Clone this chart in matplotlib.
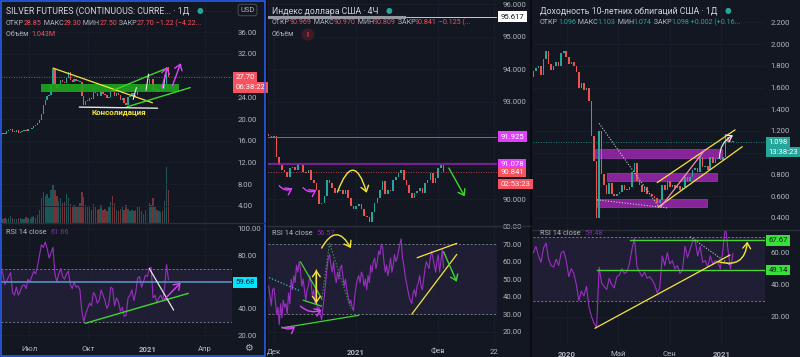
import numpy as np
import pandas as pd
import matplotlib.pyplot as plt
import matplotlib.dates as mdates
import matplotlib.transforms as mtransforms
from matplotlib.patches import Rectangle, FancyArrowPatch

plt.rcParams['font.family'] = ['Roboto', 'DejaVu Sans']

# ---------------- data ----------------
# silver futures, one value every 3 days from 2020-05-15
silver_close = [17.0, 17.3, 17.4, 17.2, 17.8, 18.0, 18.2, 17.6, 17.6, 17.9,
                17.5, 17.6, 17.8, 17.9, 17.8, 18.1, 18.2, 18.4, 18.8, 18.9,
                19.2, 19.8, 21.0, 22.6, 23.5, 24.2, 24.4, 26.2, 29.3, 26.5,
                25.8, 26.4, 27.2, 26.8, 26.7, 27.6, 28.6, 27.2, 26.8, 27.3,
                27.0, 27.1, 26.8, 24.3, 22.6, 23.3, 23.4, 23.9, 23.7, 25.0,
                24.8, 24.3, 24.2, 25.0, 24.7, 24.4, 23.9, 24.1, 25.5, 25.4,
                24.3, 24.8, 24.5, 23.5, 23.8, 23.0, 22.6, 24.0, 24.3, 24.8,
                24.0, 24.5, 25.9, 26.1, 25.5, 25.9, 26.5, 26.4, 27.3, 27.4,
                25.3, 25.5, 24.9, 25.4, 25.6, 25.1, 26.4, 29.6, 27.7]
silver_volume = [20, 25, 18, 22, 20, 24, 30, 22, 18, 20,
                 24, 22, 18, 20, 25, 22, 20, 28, 30, 24,
                 35, 60, 110, 140, 120, 130, 110, 150, 170, 150,
                 120, 100, 110, 90, 95, 130, 110, 85, 70, 80,
                 75, 70, 90, 140, 115, 80, 70, 75, 60, 85,
                 70, 60, 65, 80, 60, 65, 55, 70, 95, 120,
                 90, 60, 55, 65, 75, 60, 80, 65, 55, 60,
                 55, 60, 75, 70, 55, 40, 60, 45, 90, 80,
                 110, 70, 60, 55, 50, 55, 100, 250, 150]
silver_rsi = [62, 70, 66, 58, 61, 64, 67, 52, 50, 56,
              50, 53, 57, 58, 55, 62, 60, 64, 68, 66,
              72, 80, 88, 86, 90, 85, 78, 82, 86, 66,
              60, 66, 70, 64, 62, 66, 68, 58, 55, 60,
              56, 57, 54, 38, 30, 36, 40, 44, 42, 52,
              50, 44, 46, 54, 50, 46, 40, 43, 56, 55,
              42, 48, 45, 38, 41, 34, 35, 48, 50, 54,
              46, 52, 63, 64, 56, 60, 65, 64, 70, 71,
              48, 50, 44, 48, 50, 46, 56, 73, 61.66]

# US dollar index, daily values from 2020-11-29
dxy_close = [91.95, 91.9,
             91.95, 91.3, 91.05, 90.9, 90.85, 90.7, 90.95, 91.0, 90.9, 91.1,
             91.05, 90.85, 90.8, 90.9, 90.6, 90.5, 90.3, 89.85, 89.9, 90.1,
             90.6, 90.5, 90.35, 90.2, 90.25, 90.3, 90.15, 90.3, 90.05, 89.8, 89.7,
             89.8, 89.85, 89.7, 89.5, 89.45, 89.3, 89.6, 89.9, 90.05, 90.3,
             90.55, 90.15, 90.3, 90.25, 90.6, 90.7, 90.8, 90.9, 90.6, 90.45,
             90.2, 90.05, 90.2, 90.25, 90.35, 90.2, 90.5, 90.6, 90.8, 90.5, 90.65,
             90.95, 91.05, 90.841]
# RSI of the 4h chart, every 12 hours from 2020-11-29
dxy_rsi = [46, 40, 35, 44, 45, 38, 30, 34, 24, 36, 28, 38, 34, 36, 30, 42, 36, 50,
           44, 52, 48, 58, 54, 60, 55, 46, 50, 44, 38, 44, 46, 52, 48, 40, 44, 36,
           38, 32, 34, 30, 27, 34, 40, 48, 56, 62, 64, 58, 54, 60, 52, 48, 54, 50,
           56, 58, 52, 46, 50, 44, 40, 36, 38, 34, 32, 40, 46, 50, 52, 48, 54, 52,
           46, 50, 44, 52, 48, 58, 54, 60, 62, 56, 60, 66, 64, 70, 68, 60, 54, 58,
           52, 56, 62, 54, 58, 64, 60, 62, 66, 70, 73, 62, 58, 52, 48, 44, 40, 38,
           36, 42, 44, 40, 46, 48, 52, 46, 44, 50, 56, 60, 58, 56, 62, 66, 62, 58,
           54, 60, 64, 54, 60, 67, 56.57]

# US 10-year yield, one value every 6 days from 2019-10-13
ust_close = [1.75, 1.78, 1.80, 1.72, 1.86, 1.94, 1.82, 1.76, 1.80, 1.84,
             1.80, 1.92, 1.94, 1.88, 1.82, 1.84, 1.80, 1.74, 1.60, 1.64,
             1.58, 1.60, 1.48, 1.15, 0.92, 0.40, 1.20, 0.80, 0.70, 0.62,
             0.72, 0.62, 0.60, 0.62, 0.64, 0.70, 0.66, 0.66, 0.68, 0.82,
             0.90, 0.74, 0.70, 0.64, 0.68, 0.62, 0.62, 0.60, 0.58, 0.54,
             0.56, 0.70, 0.66, 0.74, 0.68, 0.70, 0.67, 0.69, 0.66, 0.68,
             0.78, 0.74, 0.78, 0.84, 0.86, 0.82, 0.96, 0.87, 0.88, 0.84,
             0.96, 0.90, 0.94, 0.94, 0.93, 0.96, 1.14, 1.10, 1.10, 1.098]
ust_rsi = [60, 64, 58, 54, 63, 66, 56, 52, 51, 56,
           52, 60, 61, 55, 45, 50, 47, 40, 30, 36,
           33, 39, 26, 20, 16, 13, 51, 41, 39, 37,
           44, 40, 38, 45, 46, 50, 47, 48, 53, 62,
           69, 51, 48, 45, 48, 44, 45, 43, 40, 35,
           38, 58, 52, 60, 53, 55, 50, 52, 47, 49,
           64, 57, 62, 67, 68, 58, 64, 54, 55, 51,
           58, 53, 55, 54, 50, 62, 77, 62, 50, 59.48]

silver_dates = pd.date_range('2020-05-15', periods=len(silver_close), freq='3D')
dxy_dates = pd.date_range('2020-11-29', periods=len(dxy_close), freq='D')
dxy_rsi_dates = pd.date_range('2020-11-29', periods=len(dxy_rsi), freq='12h')
ust_dates = pd.date_range('2019-10-13', periods=len(ust_close), freq='6D')

# hand drawings on the charts, as (date, value) points
silver_zone = ('2020-07-19', '2021-02-20', 25.0, 26.4)
silver_yellow = [('2020-08-07', 29.4), ('2021-01-09', 23.0)]
silver_green = [[('2020-11-09', 25.3), ('2021-02-01', 29.4)],
                [('2020-11-29', 22.2), ('2021-03-09', 25.8)]]
silver_white = [('2020-09-17', 22.2), ('2021-01-17', 22.0)]
silver_white_strokes = [[('2020-12-10', 23.6), ('2020-12-15', 25.8)],
                        [('2020-12-30', 25.3), ('2021-01-03', 28.3)],
                        [('2021-01-26', 25.7), ('2021-01-29', 28.1)]]
silver_magenta = [[('2021-01-24', 25.8), ('2021-02-01', 29.6)],
                  [('2021-02-09', 26.1), ('2021-02-22', 30.3)]]
silver_label = ('2020-11-17', 21.2, 'Консолидация')
silver_rsi_green = [('2020-09-26', 28.8), ('2021-03-06', 51.4)]
silver_rsi_white = [('2021-01-04', 70.2), ('2021-02-11', 38.8)]
silver_rsi_magenta = [('2021-01-28', 47.0), ('2021-02-22', 59.4)]
silver_rsi_level = 59.68

dxy_levels = [91.925, 91.078]
dxy_ray = 95.617
dxy_yellow_arc = [('2020-12-25', 90.23), ('2021-01-05', 90.2)]
dxy_magenta_arcs = [[('2020-12-03', 90.42), ('2020-12-08', 90.34)],
                    [('2020-12-12', 90.36), ('2020-12-17', 90.29)]]
dxy_green_arrow = [('2021-02-05', 90.96), ('2021-02-11', 90.09)]
dxy_rsi_green = [[('2020-12-04', 22.2), ('2021-01-02', 29.4)],
                 [('2020-12-11', 59.9), ('2020-12-19', 39.0)],
                 [('2020-12-12', 38.0), ('2020-12-19', 34.6)]]
dxy_rsi_dotted = [('2020-12-19', 38.1), ('2020-12-22', 70.4), ('2020-12-30', 33.3)]
dxy_rsi_cyan = [('2020-11-27', 52.3), ('2020-12-11', 43.2)]
dxy_rsi_yellow = [[('2021-01-22', 30.0), ('2021-02-08', 64.1)],
                  [('2021-01-24', 62.2), ('2021-02-08', 70.4)]]
dxy_rsi_yellow_arc = [('2020-12-19', 67.7), ('2020-12-30', 67.7)]
dxy_rsi_yellow_updown = [('2020-12-17', 36.3), ('2020-12-17', 55.2)]
dxy_rsi_magenta = [[('2020-12-04', 22.7), ('2020-12-09', 22.9)],
                   [('2020-12-11', 34.6), ('2020-12-19', 32.4)]]
dxy_rsi_green_arrow = [('2021-02-03', 65.6), ('2021-02-08', 48.5)]

ust_zones = [('2020-03-07', '2021-01-03', 0.951, 1.034),
             ('2020-04-05', '2020-12-22', 0.74, 0.81),
             ('2020-03-12', '2020-11-29', 0.50, 0.573)]
ust_yellow = [[('2020-08-02', 0.724), ('2021-02-03', 1.21)],
              [('2020-08-04', 0.497), ('2021-02-20', 1.055)]]
ust_pink = [('2020-08-10', 0.497), ('2020-11-23', 1.025)]
ust_white_dotted = [[('2020-03-17', 1.27), ('2020-08-06', 0.50)],
                    [('2020-03-12', 0.565), ('2020-08-27', 0.49)]]
ust_white_arrow = [('2020-12-28', 0.95), ('2021-01-29', 1.16)]
ust_rsi_levels = [('2020-05-29', 67.67), ('2020-03-12', 49.14)]
ust_rsi_yellow = [('2020-03-07', 12.75), ('2021-01-22', 58.6)]
ust_rsi_dotted = [('2020-10-19', 70.0), ('2021-01-22', 52.3)]
ust_rsi_arc = [('2020-12-25', 54.4), ('2021-03-04', 66.9)]

# ---------------- style ----------------
BG = '#131722'
GRID = '#1b1f2c'
TXT = '#b2b5be'
UP = '#26a69a'
DN = '#ef5350'
RSI_C = '#9a2fc2'
YEL = '#f5e63a'
GRN = '#3fd62e'
MAG = '#e040fb'
WHT = '#e6e6e6'

W, H = 800, 357
fig = plt.figure(figsize=(W / 100, H / 100), dpi=100, facecolor='#090b10')


def px_axes(x0, y0, x1, y1):
    return fig.add_axes([x0 / W, 1 - y1 / H, (x1 - x0) / W, (y1 - y0) / H])


def d(s):
    return mdates.date2num(pd.Timestamp(s))


def setup(ax, xlim, ylim, yticks, fmt, xticks, hidden=()):
    # labels in "hidden" sit under a price tag in the original, so they stay blank
    ax.set_facecolor('none')
    ax.set_xlim(d(xlim[0]), d(xlim[1]))
    ax.set_ylim(*ylim)
    ax.set_xticks([d(t) for t in xticks])
    ax.set_yticks(yticks)
    ax.set_yticklabels(['' if v in hidden else fmt.format(v) for v in yticks])
    ax.yaxis.tick_right()
    ax.tick_params(axis='y', length=0, pad=4, labelsize=5.6, labelcolor=TXT)
    ax.tick_params(axis='x', length=0, labelbottom=False)
    ax.grid(True, color=GRID, lw=0.6)
    for sp in ax.spines.values():
        sp.set_visible(False)


def time_labels(ax, labels):
    ax.tick_params(axis='x', labelbottom=True, labelsize=5.6, labelcolor=TXT, pad=4)
    ax.set_xticklabels(labels)
    for t in ax.get_xticklabels():
        if t.get_text() in ('2020', '2021'):
            t.set_fontweight('bold')


def candles(ax, x, close, first_open, width, min_body):
    c = np.asarray(close, float)
    o = np.r_[first_open, c[:-1]]
    up = c >= o
    ax.bar(x, np.maximum(np.abs(c - o), min_body), bottom=np.minimum(o, c),
           width=width, color=np.where(up, UP, DN), linewidth=0, zorder=3)
    return up


def rsi_band(ax):
    ax.axhspan(30, 70, color='#7e57c2', alpha=0.12, lw=0, zorder=1)
    for lv in (30, 70):
        ax.axhline(lv, color='#787b86', lw=0.7, ls=(0, (2, 2)), zorder=2)


def seg(ax, pts, color, lw=1.0, ls='-', z=5):
    ax.plot([d(p[0]) for p in pts], [p[1] for p in pts], color=color, lw=lw,
            ls=ls, zorder=z, solid_capstyle='round')


def arr(ax, p0, p1, color, rad=0.0, lw=1.0):
    ax.add_patch(FancyArrowPatch((d(p0[0]), p0[1]), (d(p1[0]), p1[1]),
                                 connectionstyle=f'arc3,rad={rad}',
                                 arrowstyle='->,head_length=0.5,head_width=0.35',
                                 mutation_scale=8, color=color, lw=lw,
                                 shrinkA=0, shrinkB=0, zorder=6))


def tag(ax, y, text, bg, fg='white', dy=0):
    tr = mtransforms.blended_transform_factory(ax.transAxes, ax.transData)
    ax.annotate(text, xy=(1, y), xycoords=tr, xytext=(2.5, dy), textcoords='offset points',
                ha='left', va='center', fontsize=5.6, color=fg, zorder=10,
                annotation_clip=False,
                bbox=dict(boxstyle='square,pad=0.3', fc=bg, ec='none'))


def price_line(ax, y, color):
    ax.axhline(y, color=color, lw=0.6, ls=(0, (1, 2)), zorder=4)


# panel backgrounds
for x0, x1 in [(0, 265), (267, 530), (532, 800)]:
    fig.add_artist(Rectangle((x0 / W, 0), (x1 - x0) / W, 1, transform=fig.transFigure,
                             fc=BG, ec='none', zorder=-10))

# ---------------- panel 1: silver ----------------
p1_x = ('2020-05-18', '2021-05-13')
p1_ticks = ['2020-07-01', '2020-10-01', '2021-01-01', '2021-04-01']
sx = mdates.date2num(silver_dates)

vax = px_axes(1, 0, 232, 223)
s_up = np.asarray(silver_close) >= np.r_[16.9, silver_close[:-1]]
vax.bar(sx, silver_volume, width=2.2, color=np.where(s_up, UP, DN), alpha=0.45, lw=0)
vax.set_xlim(d(p1_x[0]), d(p1_x[1]))
vax.set_ylim(0, 1000)
vax.axis('off')

ax1 = px_axes(1, 0, 232, 223)
candles(ax1, sx, silver_close, 16.9, 2.2, 0.12)
setup(ax1, p1_x, (0.82, 41.96), list(range(4, 44, 4)), '{:.2f}', p1_ticks, hidden=(28, 40))
ax1.add_patch(Rectangle((d(silver_zone[0]), silver_zone[2]),
                        d(silver_zone[1]) - d(silver_zone[0]), silver_zone[3] - silver_zone[2],
                        fc='#1fa31f', ec='none', alpha=0.92, zorder=4))
seg(ax1, silver_yellow, YEL, 0.9)
for g in silver_green:
    seg(ax1, g, GRN, 1.0)
seg(ax1, silver_white, WHT, 1.0)
for w in silver_white_strokes:
    seg(ax1, w, WHT, 0.8)
for m in silver_magenta:
    arr(ax1, m[0], m[1], MAG, lw=1.0)
ax1.text(d(silver_label[0]), silver_label[1], silver_label[2], color=YEL, fontsize=5.8,
         weight='bold', ha='center', va='center', zorder=7)
price_line(ax1, silver_close[-1], DN)
tag(ax1, silver_close[-1], '27.70', '#f7525f')
tag(ax1, silver_close[-1], '06:38:22', '#f7525f', dy=-7.2)

rax1 = px_axes(1, 223, 232, 340)
rsi_band(rax1)
rax1.plot(sx, silver_rsi, color=RSI_C, lw=0.8, zorder=3)
setup(rax1, p1_x, (16.3, 104.3), [20, 40, 60, 80, 100], '{:.2f}', p1_ticks, hidden=(60,))
time_labels(rax1, ['Июл', 'Окт', '2021', 'Апр'])
rax1.axhline(silver_rsi_level, color='#5a8fbe', lw=1.2, zorder=4)
seg(rax1, silver_rsi_green, GRN, 1.0)
seg(rax1, silver_rsi_white, WHT, 0.9)
arr(rax1, silver_rsi_magenta[0], silver_rsi_magenta[1], MAG, lw=1.0)
tag(rax1, silver_rsi_level, '59.68', '#00e5ff', fg='#131722')

# ---------------- panel 2: dollar index ----------------
p2_x = ('2020-11-28 18:00', '2021-02-23 04:00')
p2_ticks = ['2020-12-01', '2021-01-01', '2021-02-01', '2021-02-22']
dx = mdates.date2num(dxy_dates)

ax2 = px_axes(268, 0, 497, 226)
candles(ax2, dx, dxy_close, 92.0, 0.6, 0.02)
setup(ax2, p2_x, (89.18, 96.13), [90, 91, 92, 93, 94, 95, 96], '{:.3f}', p2_ticks,
      hidden=(91, 92))
ax2.axhline(dxy_ray, color=WHT, lw=0.6, zorder=4)
ax2.plot([d(p2_x[0]), d('2021-01-19')], [dxy_ray, dxy_ray], color='#9598a1', lw=2.2, zorder=4)
ax2.axhline(dxy_levels[0], color='#c03ad6', lw=0.7, zorder=4)
ax2.axhline(dxy_levels[1], color='#8e24aa', lw=1.6, alpha=0.8, zorder=4)
price_line(ax2, dxy_close[-1], DN)
arr(ax2, dxy_yellow_arc[0], dxy_yellow_arc[1], YEL, rad=-1.5, lw=1.0)
for m in dxy_magenta_arcs:
    arr(ax2, m[0], m[1], MAG, rad=0.4, lw=1.0)
arr(ax2, dxy_green_arrow[0], dxy_green_arrow[1], GRN, lw=1.0)
tag(ax2, dxy_ray, '95.617', 'white', fg='#131722')
tag(ax2, dxy_levels[0], '91.925', MAG)
tag(ax2, dxy_levels[1], '91.078', MAG)
tag(ax2, dxy_close[-1], '90.841', '#f7525f')
tag(ax2, dxy_close[-1], '02:53:23', '#f7525f', dy=-8.6)

rax2 = px_axes(268, 226, 497, 343)
rsi_band(rax2)
rax2.plot(mdates.date2num(dxy_rsi_dates), dxy_rsi, color=RSI_C, lw=0.8, zorder=3)
setup(rax2, p2_x, (13.6, 80.3), [20, 30, 40, 50, 60, 70, 80], '{:.2f}', p2_ticks)
time_labels(rax2, ['Дек', '2021', 'Фев', '22'])
for g in dxy_rsi_green:
    seg(rax2, g, GRN, 0.9)
seg(rax2, dxy_rsi_dotted, '#2e9e3a', 0.9, ls=(0, (1, 1.5)))
seg(rax2, dxy_rsi_cyan, '#26c6da', 0.9, ls=(0, (1, 1.5)))
for yl in dxy_rsi_yellow:
    seg(rax2, yl, YEL, 0.9)
arr(rax2, dxy_rsi_yellow_arc[0], dxy_rsi_yellow_arc[1], YEL, rad=-0.9, lw=1.0)
arr(rax2, dxy_rsi_yellow_updown[0], dxy_rsi_yellow_updown[1], YEL, lw=1.0)
arr(rax2, dxy_rsi_yellow_updown[1], dxy_rsi_yellow_updown[0], YEL, lw=1.0)
for m in dxy_rsi_magenta:
    arr(rax2, m[0], m[1], MAG, rad=0.3, lw=1.0)
arr(rax2, dxy_rsi_green_arrow[0], dxy_rsi_green_arrow[1], GRN, lw=1.0)

# ---------------- panel 3: 10y yield ----------------
p3_x = ('2019-10-12', '2021-04-15')
p3_ticks = ['2020-01-01', '2020-05-01', '2020-09-01', '2021-01-01']
ux = mdates.date2num(ust_dates)

ax3 = px_axes(533, 0, 765, 230)
candles(ax3, ux, ust_close, 1.70, 3.8, 0.008)
setup(ax3, p3_x, (0.287, 2.407), [0.4, 0.6, 0.8, 1.0, 1.2, 1.4, 1.6, 1.8, 2.0, 2.2],
      '{:.3f}', p3_ticks, hidden=(1.0,))
for z in ust_zones:
    ax3.add_patch(Rectangle((d(z[0]), z[2]), d(z[1]) - d(z[0]), z[3] - z[2],
                            fc='#9c27b0', ec='#b040c8', lw=0.5, alpha=0.85, zorder=2))
for yl in ust_yellow:
    seg(ax3, yl, YEL, 0.9)
seg(ax3, ust_pink, '#f48fb1', 0.9)
for wd in ust_white_dotted:
    seg(ax3, wd, '#c8c8c8', 0.8, ls=(0, (1, 1.5)))
arr(ax3, ust_white_arrow[0], ust_white_arrow[1], WHT, rad=-0.3, lw=0.9)
price_line(ax3, ust_close[-1], UP)
tag(ax3, ust_close[-1], '1.098', UP)
tag(ax3, ust_close[-1], '13:38:23', UP, dy=-7.2)

rax3 = px_axes(533, 230, 765, 345)
rsi_band(rax3)
rax3.plot(ux, ust_rsi, color=RSI_C, lw=0.8, zorder=3)
setup(rax3, p3_x, (2.3, 74.2), [20, 40, 60], '{:.2f}', p3_ticks)
time_labels(rax3, ['2020', 'Май', 'Сен', '2021'])
for start, lv in ust_rsi_levels:
    rax3.plot([d(start), d(p3_x[1])], [lv, lv], color='#4cd137', lw=1.0, zorder=4)
    tag(rax3, lv, f'{lv:.2f}', '#39e03a', fg='#131722')
seg(rax3, ust_rsi_yellow, YEL, 0.9)
seg(rax3, ust_rsi_dotted, '#c8c8c8', 0.8, ls=(0, (1, 1.5)))
arr(rax3, ust_rsi_arc[0], ust_rsi_arc[1], YEL, rad=0.6, lw=1.0)

# ---------------- overlay: texts, borders ----------------
ov = fig.add_axes([0, 0, 1, 1])
ov.set_xlim(0, W)
ov.set_ylim(H, 0)
ov.axis('off')


def write(x, y, parts, size, dot=False):
    prev = None
    for s, c in parts:
        if prev is None:
            prev = ov.text(x, y, s, color=c, fontsize=size, ha='left', va='center')
        else:
            prev = ov.annotate(s, xy=(1, 0), xycoords=prev, va='bottom', ha='left',
                               color=c, fontsize=size)
    if dot:
        ov.annotate('●', xy=(1, 0.5), xycoords=prev, xytext=(5, 0), textcoords='offset points',
                    va='center', ha='left', color=UP, fontsize=5.5, family='DejaVu Sans')


LIGHT = '#d1d4dc'
RED = '#f7525f'
write(6, 11, [('SILVER FUTURES (CONTINUOUS: CURRE... · 1Д', LIGHT)], 6.3, dot=True)
write(6, 23.5, [('ОТКР', TXT), ('28.85', RED), (' МАКС', TXT), ('29.30', RED), (' МИН', TXT),
                ('27.50', RED), (' ЗАКР', TXT), ('27.70', RED), (' −1.22 (−4.22...', RED)], 5.1)
write(6, 34.5, [('Объём  ', TXT), ('1.043M', RED)], 5.1)
write(6, 233, [('RSI 14 close  ', TXT), ('61.66', '#7b2fa0')], 5.3)

write(272, 11, [('Индекс доллара США · 4Ч', LIGHT)], 6.3, dot=True)
write(272, 23, [('ОТКР', TXT), ('90.969', RED), (' МАКС', TXT), ('90.970', RED), (' МИН', TXT),
                ('90.809', RED), (' ЗАКР', TXT), ('90.841', RED), (' −0.125 (...', RED)], 5.1)
write(272, 34.5, [('Объём', TXT)], 5.1)
ov.text(308, 34.5, '!', color='#f23645', fontsize=5.5, weight='bold', ha='center', va='center',
        bbox=dict(boxstyle='circle,pad=0.35', fc='#3b1d25', ec='none'))
write(272, 233.5, [('RSI 14 close  ', TXT), ('56.57', '#7b2fa0')], 5.3)

write(540, 11, [('Доходность 10-летних облигаций США · 1Д', LIGHT)], 6.3, dot=True)
write(540, 23, [('ОТКР', TXT), ('1.096', UP), (' МАКС', TXT), ('1.103', UP), (' МИН', TXT),
                ('1.074', UP), (' ЗАКР', TXT), ('1.098', UP), (' +0.002 (+0.16...', UP)], 5.1)
write(540, 233.5, [('RSI 14 close  ', TXT), ('59.48', '#7b2fa0')], 5.3)

ov.text(247.5, 10, 'USD', color=TXT, fontsize=5.4, ha='center', va='center',
        bbox=dict(boxstyle='round,pad=0.3', fc=BG, ec='#50535e', lw=0.6))
ov.text(248, 348, '⚙', color=TXT, fontsize=7, ha='center', va='center', family='DejaVu Sans')

# pane separators and selected-panel border
for x0, x1, y in [(1, 265, 223), (267, 530, 226), (532, 800, 230)]:
    ov.plot([x0, x1], [y, y], color='#2a2e39', lw=1.0)
ov.add_patch(Rectangle((0.7, 0.7), 264.6, 355.6, fill=False, ec='#2962ff', lw=1.1))

fig.savefig('out.png', dpi=100, facecolor=fig.get_facecolor())
